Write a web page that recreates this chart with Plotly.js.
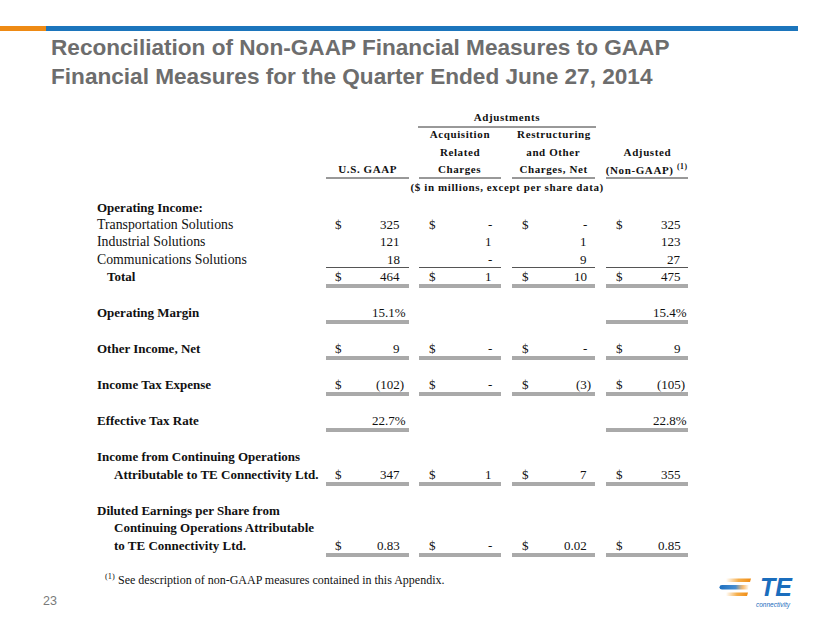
<!DOCTYPE html>
<html>
<head>
<meta charset="utf-8">
<script src="https://cdn.plot.ly/plotly-3.0.1.min.js"></script>
<style>
  html, body { margin: 0; padding: 0; background: #fff; }
  #chart { width: 830px; height: 623px; }
</style>
</head>
<body>
<div id="chart"></div>
<script>
// ---------------- DATA ----------------
const titleText = 'Reconciliation of Non-GAAP Financial Measures to GAAP<br>Financial Measures for the Quarter Ended June 27, 2014';
const sectionLabel = 'Operating Income:';
const rowLabels = [
  ['Transportation Solutions'],
  ['Industrial Solutions'],
  ['Communications Solutions'],
  ['Total'],
  ['Operating Margin'],
  ['Other Income, Net'],
  ['Income Tax Expense'],
  ['Effective Tax Rate'],
  ['Income from Continuing Operations', 'Attributable to TE Connectivity Ltd.'],
  ['Diluted Earnings per Share from', 'Continuing Operations Attributable', 'to TE Connectivity Ltd.']
];
const usGaap       = [325, 121, 18, 464, 15.1, 9, -102, 22.7, 347, 0.83];
const acqCharges   = [0,   1,   0,  1,   null, 0, 0,    null, 1,   0];
const restrCharges = [0,   1,   9,  10,  null, 0, -3,   null, 7,   0.02];
const adjusted     = [325, 123, 27, 475, 15.4, 9, -105, 22.8, 355, 0.85];
const rowFormat    = ['int','int','int','int','pct','int','int','pct','int','eps'];
const showDollar   = [true, false, false, true, false, true, true, false, true, true];
const columnHeaders = [
  ['U.S. GAAP'],
  ['Acquisition', 'Related', 'Charges'],
  ['Restructuring', 'and Other', 'Charges, Net'],
  ['Adjusted', '(Non-GAAP) <sup>(1)</sup>']
];
const groupHeader = 'Adjustments';
const unitsNote = '($ in millions, except per share data)';
const footnote = 'See description of non-GAAP measures contained in this Appendix.';
const pageNumber = '23';

// ---------------- LAYOUT CONFIG (positions / styles) ----------------
const series = [usGaap, acqCharges, restrCharges, adjusted];
const rowY = [224, 241, 259, 276, 312, 348, 384, 420, 474, 545];
const lineGap = 17.3;
const rowBold = [false, false, false, true, true, true, true, true, true, true];
const rowIndent = [96, 96, 96, 106, 96, 96, 96, 96, 96, 96];
const contIndent = 113;
// underline type per row: 0 none, 1 single, 2 double
const rowRule = [0, 0, 1, 2, 2, 2, 2, 2, 2, 2];
const colLeft = [326, 419, 512, 606];
const colRight = [409, 501, 595, 688];
const dollarX = [334, 428, 521, 615];
const valueRight = [401, 493, 588, 682];
const headerCenter = [367.5, 460, 553.5, 647];

const serif = 'Liberation Serif, Times New Roman, serif';
const sans = 'Liberation Sans, Arial, sans-serif';
const textColor = '#111';
const ruleColor = '#555';

function fmt(v, kind) {
  if (v === null || v === undefined) return null;
  if (kind === 'pct') return v.toFixed(1) + '%';
  if (v === 0) return '-';
  if (kind === 'eps') return v < 0 ? '(' + (-v).toFixed(2) + ')' : v.toFixed(2);
  return v < 0 ? '(' + (-v) + ')' : String(v);
}

const ann = [];
const shapes = [];
function addText(x, y, text, opts) {
  opts = opts || {};
  ann.push({
    x: x, y: y, xref: 'x', yref: 'y', text: text, showarrow: false,
    xanchor: opts.xanchor || 'left', yanchor: opts.yanchor || 'middle',
    align: opts.align || (opts.xanchor === 'center' ? 'center' : (opts.xanchor === 'right' ? 'right' : 'left')),
    font: { family: opts.family || serif, size: opts.size || 13, color: opts.color || textColor, weight: opts.bold ? 'bold' : 'normal', style: opts.italic ? 'italic' : 'normal' },
    borderpad: 0
  });
}
function hline(x0, x1, y, color, w) {
  shapes.push({ type: 'line', xref: 'x', yref: 'y', x0: x0, x1: x1, y0: y, y1: y, line: { color: color || ruleColor, width: w || 1 } });
}

// Top bar
shapes.push({ type: 'rect', xref: 'x', yref: 'y', x0: 0, x1: 46, y0: 26, y1: 31, fillcolor: '#ee8a14', line: { width: 0 } });
shapes.push({ type: 'rect', xref: 'x', yref: 'y', x0: 46, x1: 798, y0: 26, y1: 31, fillcolor: '#1c75bc', line: { width: 0 } });

// Title
ann.push({ x: 49, y: 62, xref: 'x', yref: 'y', text: titleText, showarrow: false, xanchor: 'left', yanchor: 'middle', align: 'left',
  font: { family: sans, size: 22.6, color: '#6d6d6d', weight: 'bold' } });

// Headers
const hdrSize = 11;
addText(507, 117, groupHeader, { xanchor: 'center', bold: true, size: hdrSize });
hline(418, 596, 127, '#333');
columnHeaders.forEach((lines, c) => {
  const n = lines.length;
  lines.forEach((t, i) => {
    addText(headerCenter[c], 169 - (n - 1 - i) * 17.5, t, { xanchor: 'center', bold: true, size: hdrSize });
  });
  hline(colLeft[c], colRight[c], 178, '#333');
});
addText(507, 187, unitsNote, { xanchor: 'center', bold: true, size: hdrSize });

// Section label
addText(96, 207, sectionLabel, { bold: true });

// Rows
rowLabels.forEach((lines, r) => {
  const n = lines.length;
  lines.forEach((t, i) => {
    addText(i === 0 ? rowIndent[r] : contIndent, rowY[r] - (n - 1 - i) * lineGap, t, { bold: rowBold[r], size: rowBold[r] ? 13 : 13.8 });
  });
  series.forEach((s, c) => {
    const txt = fmt(s[r], rowFormat[r]);
    if (txt === null) return;
    if (showDollar[r]) addText(dollarX[c], rowY[r], '$', {});
    let xr = valueRight[c];
    if (rowFormat[r] === 'pct') xr += 6;
    else if (s[r] < 0) xr += 4;
    addText(xr, rowY[r], txt, { xanchor: 'right' });
    if (rowRule[r] === 1) {
      hline(colLeft[c], colRight[c], rowY[r] + 8.5);
    } else if (rowRule[r] === 2) {
      hline(colLeft[c], colRight[c], rowY[r] + 9);
      hline(colLeft[c], colRight[c], rowY[r] + 11);
    }
  });
});

// Footnote
addText(104, 576, '<sup>(1)</sup>', { size: 12 });
addText(117, 580, footnote, { size: 12 });

// Page number
addText(42, 601, pageNumber, { family: sans, size: 12.5, color: '#7a7a7a' });

// Logo swooshes (image) + text
const logoSvg = '<svg xmlns="http://www.w3.org/2000/svg" width="40" height="20" viewBox="0 0 40 20">' +
  '<defs>' +
  '<linearGradient id="o" x1="0" x2="1" y1="0" y2="0"><stop offset="0" stop-color="#f39a1e" stop-opacity="0"/><stop offset="0.5" stop-color="#f39a1e" stop-opacity="0.8"/><stop offset="1" stop-color="#f08c14"/></linearGradient>' +
  '<linearGradient id="b" x1="0" x2="1" y1="0" y2="0"><stop offset="0" stop-color="#1c6fc0"/><stop offset="0.55" stop-color="#4a8fd0"/><stop offset="0.8" stop-color="#f3a03a" stop-opacity="0.7"/><stop offset="1" stop-color="#f39a1e" stop-opacity="0"/></linearGradient>' +
  '</defs>' +
  '<path d="M8 1.5 L33 1.5 L32 5 L8 5 Z" fill="url(#o)"/>' +
  '<path d="M4 8 L31 8 L30 12.5 L4 12.5 Q1.5 12.5 1.5 10.25 Q1.5 8 4 8 Z" fill="url(#b)"/>' +
  '<path d="M8 15.5 L30 15.5 L29 19 L8 19 Z" fill="url(#o)"/>' +
  '</svg>';
const images = [{
  source: 'data:image/svg+xml;charset=utf-8,' + encodeURIComponent(logoSvg),
  xref: 'x', yref: 'y', x: 718, y: 577, sizex: 40, sizey: 20, xanchor: 'left', yanchor: 'top', sizing: 'stretch', layer: 'above'
}];
addText(776, 587, 'TE', { family: sans, size: 25, color: '#1a6dbd', bold: true, italic: true, xanchor: 'center' });
addText(773, 605, 'connectivity', { family: sans, size: 6.5, color: '#1a6dbd', italic: true, xanchor: 'center' });

const layout = {
  width: 830, height: 623,
  margin: { l: 0, r: 0, t: 0, b: 0 },
  paper_bgcolor: '#fff', plot_bgcolor: '#fff',
  xaxis: { range: [0, 830], visible: false, fixedrange: true },
  yaxis: { range: [623, 0], visible: false, fixedrange: true },
  showlegend: false,
  annotations: ann, shapes: shapes, images: images
};
const trace = { x: [], y: [], type: 'scatter', mode: 'markers', hoverinfo: 'skip' };

Plotly.newPlot('chart', [trace], layout, { staticPlot: true, displayModeBar: false }).then(() => {
  const spaced = new Set([groupHeader, unitsNote, 'U.S. GAAP', 'Acquisition', 'Related', 'Charges', 'Restructuring', 'and Other', 'Charges, Net', 'Adjusted', '(Non-GAAP) <sup>(1)</sup>']);
  document.querySelectorAll('.annotation-text').forEach(el => {
    const u = el.getAttribute('data-unformatted');
    if (spaced.has(u)) el.style.letterSpacing = '0.6px';
  });
});
</script>
</body>
</html>
